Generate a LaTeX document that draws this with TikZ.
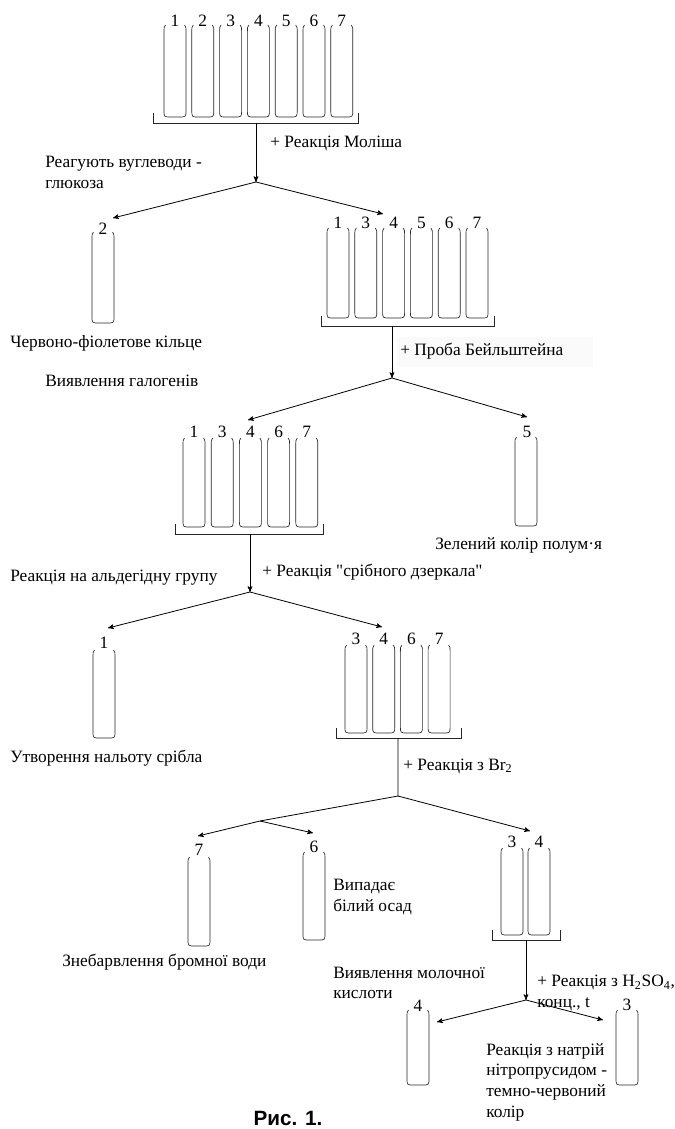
\documentclass[tikz,border=0pt]{standalone}
\usepackage{fontspec}
\setmainfont{Liberation Serif}
\newfontfamily\capfont{Liberation Sans}
\usetikzlibrary{arrows, positioning}

% one test tube: left x, top y, bottom y
\newcommand{\testtube}[3]{%
  \draw[tubeline] (#1+1.5,#2) .. controls (#1,#2+2) .. (#1,#2+8) -- (#1,#3-7)
    .. controls (#1,#3) .. (#1+7,#3) -- (#1+15,#3)
    .. controls (#1+22,#3) .. (#1+22,#3-7) -- (#1+22,#2+8)
    .. controls (#1+22,#2+2) .. (#1+20.5,#2);
}
% stand under a rack: left x, right x, y
\newcommand{\rackbase}[3]{%
  \draw[tubeline] (#1,#3-10) -- (#1,#3) -- (#2,#3) -- (#2,#3-10);
}

\begin{document}
\begin{tikzpicture}[x=0.75pt, y=-0.75pt, >=stealth']
\tikzstyle{tubeline} = [line width=0.5pt, black!85]
\tikzstyle{num} = [inner sep=0pt, font=\fontsize{13}{15}\selectfont]
\tikzstyle{lbl} = [inner sep=0pt, anchor=west, align=left, font=\fontsize{13}{15.5}\selectfont]
\tikzstyle{arrow} = [->, line width=0.6pt]
\tikzstyle{link} = [line width=0.6pt]

\useasboundingbox[fill=white] (0,0) rectangle (675,1129);

% rack with all seven samples
\foreach \lab [count=\i from 0] in {1,...,7} {
  \pgfmathsetmacro{\tx}{164+27.8*\i}
  \testtube{\tx}{25}{117}
  \node[num] (a\lab) at (\tx+11,21) {\lab};
}
\rackbase{153}{358}{123}
\coordinate (basea) at (256,123);
\coordinate (forka) at (256,182);
\node[lbl] (molish) at (270,143) {+ Реакція Моліша};
\node[lbl] (carbs) at (45,172.5) {Реагують вуглеводи -\\глюкоза};

% tube 2
\testtube{92}{232}{323}
\node[num] (s2) at (103,229) {2};
\coordinate (to2) at (113,218);
\node[lbl] (ring) at (10,343) {Червоно-фіолетове кільце};

% rack 1 3 4 5 6 7
\foreach \lab [count=\i from 0] in {1,3,4,5,6,7} {
  \pgfmathsetmacro{\tx}{327+27.8*\i}
  \testtube{\tx}{228}{318}
  \node[num] (b\lab) at (\tx+11,223) {\lab};
}
\rackbase{321}{494}{326}
\coordinate (baseb) at (392,326);
\coordinate (forkb) at (392,378);
\coordinate (tob) at (383,214);
\fill[black!2] (397,337) rectangle (593,367);
\node[lbl] (beil) at (400,351) {+ Проба Бейльштейна};
\node[lbl] (halo) at (45,381) {Виявлення галогенів};

% tube 5
\testtube{515}{437}{526}
\node[num] (s5) at (527,432) {5};
\coordinate (to5) at (527,417);
\node[lbl] (green) at (435,545) {Зелений колір полум·я};

% rack 1 3 4 6 7
\foreach \lab [count=\i from 0] in {1,3,4,6,7} {
  \pgfmathsetmacro{\tx}{183+28.2*\i}
  \testtube{\tx}{438}{527}
  \node[num] (c\lab) at (\tx+11,432) {\lab};
}
\rackbase{175}{323}{534}
\coordinate (basec) at (250,534);
\coordinate (forkc) at (250,592);
\coordinate (toc) at (248,420);
\node[lbl] (mirror) at (262,572) {+ Реакція \textquotedbl срібного дзеркала\textquotedbl};
\node[lbl] (ald) at (10,578) {Реакція на альдегідну групу};

% tube 1
\testtube{93}{650}{738}
\node[num] (s1) at (104,643) {1};
\coordinate (to1) at (108,628);
\node[lbl] (silver) at (10,758) {Утворення нальоту срібла};

% rack 3 4 6 7
\foreach \lab [count=\i from 0] in {3,4,6,7} {
  \pgfmathsetmacro{\tx}{345+27.7*\i}
  \testtube{\tx}{645}{733}
  \node[num] (d\lab) at (\tx+11,639) {\lab};
}
\rackbase{336}{461}{738}
\coordinate (based) at (398,738);
\coordinate (forkd) at (398,796);
\coordinate (tod) at (382,627);
\node[lbl] (brom) at (403,766) {+ Реакція з Br\textsubscript{2}};

% tubes 7 and 6
\coordinate (forke) at (260,821);
\testtube{188}{857}{946}
\node[num] (s7) at (199,850) {7};
\coordinate (to7) at (198,836);
\testtube{303}{852}{940}
\node[num] (s6) at (314,847) {6};
\coordinate (to6) at (313,833);
\node[lbl] (white) at (333,897) {Випадає\\білий осад};
\node[lbl] (decol) at (62,962) {Знебарвлення бромної води};

% rack 3 4
\foreach \lab [count=\i from 0] in {3,4} {
  \pgfmathsetmacro{\tx}{501+27*\i}
  \testtube{\tx}{848}{935}
  \node[num] (e\lab) at (\tx+11,842) {\lab};
}
\rackbase{492}{560}{940}
\coordinate (basee) at (526,940);
\coordinate (forkf) at (526,1000);
\coordinate (toe) at (530,831);
\node[lbl] (sulf) at (537,993) {+ Реакція з H\textsubscript{2}SO\textsubscript{4},\\конц., t};
\node[lbl] (lact) at (333,983) {Виявлення молочної\\кислоти};

% tubes 4 and 3
\testtube{407}{1010}{1085}
\node[num] (s4) at (418,1006) {4};
\coordinate (to4) at (437,1022);
\testtube{616}{1010}{1085}
\node[num] (s3) at (627,1005) {3};
\coordinate (to3) at (603,1020);
\node[lbl] (nitro) at (486,1082) {Реакція з натрій\\нітропрусидом -\\темно-червоний\\колір};

\node[font=\capfont\bfseries\fontsize{15.5}{18}\selectfont, anchor=base, inner sep=0pt] (cap) at (288,1125) {Рис. 1.};

% connectors
\draw[arrow] (basea) -- (forka);
\draw[arrow] (forka) -- (to2);
\draw[arrow] (forka) -- (tob);
\draw[arrow] (baseb) -- (forkb);
\draw[arrow] (forkb) -- (toc);
\draw[arrow] (forkb) -- (to5);
\draw[arrow] (basec) -- (forkc);
\draw[arrow] (forkc) -- (to1);
\draw[arrow] (forkc) -- (tod);
\draw[link] (based) -- (forkd) -- (forke);
\draw[arrow] (forkd) -- (toe);
\draw[arrow] (forke) -- (to7);
\draw[arrow] (forke) -- (to6);
\draw[arrow] (basee) -- (forkf);
\draw[arrow] (forkf) -- (to4);
\draw[arrow] (forkf) -- (to3);
\end{tikzpicture}
\end{document}
